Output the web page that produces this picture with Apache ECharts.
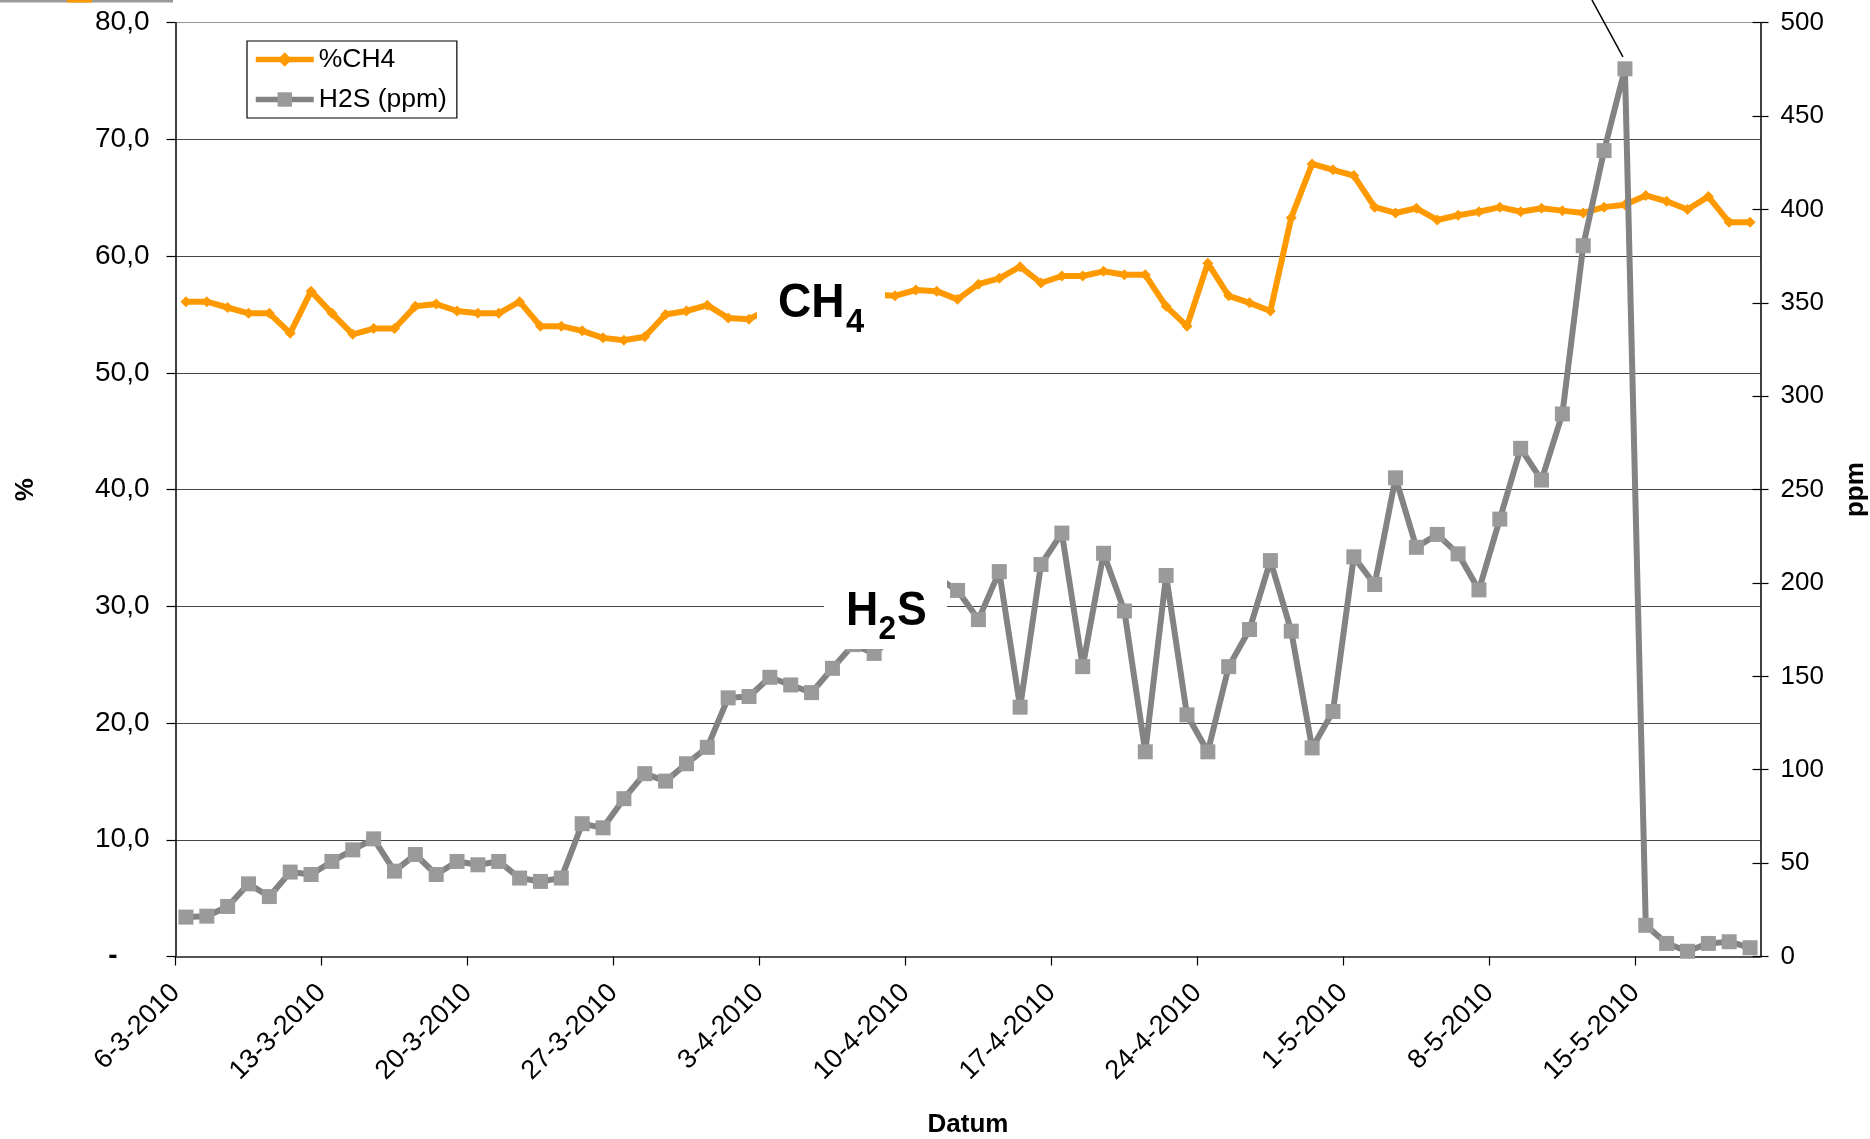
<!DOCTYPE html>
<html><head><meta charset="utf-8">
<script src="https://cdn.jsdelivr.net/npm/echarts@6/dist/echarts.min.js"></script>
<style>html,body{margin:0;padding:0;background:#fff}#c{width:1870px;height:1139px}</style>
</head><body><div id="c"></div>
<script>
// Daily dates (categories), 6-3-2010 .. 20-5-2010
const dates = [
 '6-3-2010','7-3-2010','8-3-2010','9-3-2010','10-3-2010','11-3-2010','12-3-2010','13-3-2010','14-3-2010','15-3-2010',
 '16-3-2010','17-3-2010','18-3-2010','19-3-2010','20-3-2010','21-3-2010','22-3-2010','23-3-2010','24-3-2010','25-3-2010',
 '26-3-2010','27-3-2010','28-3-2010','29-3-2010','30-3-2010','31-3-2010','1-4-2010','2-4-2010','3-4-2010','4-4-2010',
 '5-4-2010','6-4-2010','7-4-2010','8-4-2010','9-4-2010','10-4-2010','11-4-2010','12-4-2010','13-4-2010','14-4-2010',
 '15-4-2010','16-4-2010','17-4-2010','18-4-2010','19-4-2010','20-4-2010','21-4-2010','22-4-2010','23-4-2010','24-4-2010',
 '25-4-2010','26-4-2010','27-4-2010','28-4-2010','29-4-2010','30-4-2010','1-5-2010','2-5-2010','3-5-2010','4-5-2010',
 '5-5-2010','6-5-2010','7-5-2010','8-5-2010','9-5-2010','10-5-2010','11-5-2010','12-5-2010','13-5-2010','14-5-2010',
 '15-5-2010','16-5-2010','17-5-2010','18-5-2010','19-5-2010','20-5-2010'
];
// %CH4 (left axis)
const ch4 = [
 56.1,56.1,55.6,55.1,55.1,53.4,57.0,55.1,53.3,53.8,
 53.8,55.7,55.9,55.3,55.1,55.1,56.1,54.0,54.0,53.6,
 53.0,52.8,53.1,55.0,55.3,55.8,54.7,54.6,55.5,55.8,
 56.0,56.3,56.5,56.7,56.6,57.1,57.0,56.3,57.6,58.1,
 59.1,57.7,58.3,58.3,58.7,58.4,58.4,55.7,54.0,59.4,
 56.6,56.0,55.3,63.3,67.9,67.4,66.9,64.2,63.7,64.1,
 63.1,63.5,63.8,64.2,63.8,64.1,63.9,63.7,64.2,64.4,
 65.2,64.7,64.0,65.1,62.9,62.9
];
// H2S ppm (right axis)
const h2s = [
 21.1,21.6,26.8,38.9,32.1,45.2,43.9,50.9,57.1,63.0,
 45.7,54.6,43.9,50.9,49.1,50.9,42.0,40.2,42.0,71.1,
 68.9,84.5,97.9,93.9,103.2,112.0,138.5,139.2,149.5,145.4,
 141.3,154.3,167.0,162.3,172.0,186.0,203.0,196.0,180.4,206.1,
 133.5,209.9,226.7,155.2,215.9,185.0,109.6,204.0,129.4,109.6,
 155.2,175.1,212.0,174.2,111.7,131.2,214.0,199.2,256.3,219.1,
 226.0,215.6,196.3,234.2,272.1,255.1,290.5,380.6,431.5,475.3,
 16.7,7.0,2.8,7.0,7.9,4.7
];
const seriesNames = ['%CH4', 'H2S (ppm)'];
const leftTicks = {min: 0, max: 80, step: 10};
const rightTicks = {min: 0, max: 500, step: 50};

const FONT = 'Liberation Sans, Arial, Helvetica, sans-serif';
const chart = echarts.init(document.getElementById('c'), null, {renderer: 'canvas'});

const G = {left: 175.5, right: 109.5, top: 22.7, bottom: 182.5};

const option = {
  animation: false,
  backgroundColor: '#fff',
  textStyle: {fontFamily: FONT},
  grid: {left: G.left, right: G.right, top: G.top, bottom: G.bottom, containLabel: false, outerBoundsMode: 'none'},
  legend: {
    data: seriesNames,
    orient: 'vertical',
    left: 247, top: 41,
    itemWidth: 58, itemHeight: 18, itemGap: 13,
    padding: [5, 10, 5, 6],
    borderColor: '#000', borderWidth: 1.2, backgroundColor: '#fff',
    lineStyle: {width: 5.5},
    textStyle: {fontSize: 26.5, color: '#000', fontFamily: FONT}
  },
  xAxis: {
    type: 'value', min: 0, max: dates.length, interval: 7,
    name: 'Datum', nameLocation: 'middle', nameGap: 155,
    nameTextStyle: {fontSize: 26, fontWeight: 'bold', color: '#000', fontFamily: FONT},
    axisLine: {show: true, onZero: false, lineStyle: {color: '#555', width: 2}},
    axisTick: {show: true, length: 9, lineStyle: {color: '#000', width: 1.2}},
    axisLabel: {
      rotate: 45, margin: 32, fontSize: 27, color: '#000', fontFamily: FONT,
      showMaxLabel: false,
      formatter: v => (v % 7 === 0 && v < dates.length) ? dates[v] : ''
    },
    splitLine: {show: false}
  },
  yAxis: [
    {
      type: 'value', position: 'left', min: leftTicks.min, max: leftTicks.max, interval: leftTicks.step,
      name: '%', nameLocation: 'middle', nameGap: 137, nameRotate: 90,
      nameTextStyle: {fontSize: 26, fontWeight: 'bold', color: '#000', fontFamily: FONT},
      axisLine: {show: true, lineStyle: {color: '#000', width: 1.5}},
      axisTick: {show: true, length: 9, lineStyle: {color: '#000', width: 1.2}},
      axisLabel: {
        margin: 26, fontSize: 28, color: '#000', fontFamily: FONT,
        formatter: v => v === 0 ? '{d|-}' : v.toFixed(1).replace('.', ','),
        rich: {d: {fontSize: 28, color: '#000', padding: [0, 32, 0, 0], fontWeight: 'bold'}}
      },
      splitLine: {show: true, lineStyle: {color: ['#444','#444','#444','#444','#444','#444','#444','#444','#999'], width: 1.2}}
    },
    {
      type: 'value', position: 'right', min: rightTicks.min, max: rightTicks.max, interval: rightTicks.step,
      name: 'ppm', nameLocation: 'middle', nameGap: 82, nameRotate: 90,
      nameTextStyle: {fontSize: 26, fontWeight: 'bold', color: '#000', fontFamily: FONT},
      axisLine: {show: true, lineStyle: {color: '#000', width: 1.5}},
      axisTick: {show: true, length: 8, lineStyle: {color: '#000', width: 1.2}},
      axisLabel: {margin: 20, fontSize: 26, color: '#000', fontFamily: FONT},
      splitLine: {show: false}
    },
    {
      type: 'value', position: 'right', min: rightTicks.min, max: rightTicks.max, interval: rightTicks.step,
      axisLine: {show: false},
      axisTick: {show: true, inside: true, length: 8, lineStyle: {color: '#000', width: 1.2}},
      axisLabel: {show: false},
      splitLine: {show: false}
    }
  ],
  series: [
    {
      name: seriesNames[0], type: 'line', yAxisIndex: 0, z: 2,
      data: ch4.map((v, i) => [i + 0.5, v]),
      symbol: 'diamond', symbolSize: 11,
      lineStyle: {color: '#FF9900', width: 6},
      itemStyle: {color: '#FF9900'}
    },
    {
      name: seriesNames[1], type: 'line', yAxisIndex: 1, z: 3,
      data: h2s.map((v, i) => [i + 0.5, v]),
      symbol: 'rect', symbolSize: 15,
      lineStyle: {color: '#838383', width: 6},
      itemStyle: {color: '#9a9a9a'}
    }
  ]
};
chart.setOption(option);

// Annotation graphics (white label boxes, subscripted labels, callout line)
const peakIdx = h2s.indexOf(Math.max(...h2s));
const peak = chart.convertToPixel({seriesIndex: 1}, [peakIdx + 0.5, h2s[peakIdx]]);
const bold = s => 'bold ' + s + 'px ' + FONT;
const lbl = (txt, x, y, size, sx) => ({type: 'text', z: 101, x: x, y: y, scaleX: sx,
  style: {text: txt, font: bold(size), fill: '#000', textVerticalAlign: 'middle'}});
chart.setOption({
  graphic: [
    {type: 'rect', z: 100, shape: {x: 0, y: 0, width: 173, height: 2.5}, style: {fill: '#9a9a9a'}},
    {type: 'rect', z: 101, shape: {x: 67, y: 0, width: 25, height: 2.5}, style: {fill: '#FF9900'}},
    {type: 'line', z: 100, shape: {x1: peak[0] - 33, y1: 0, x2: peak[0] - 2, y2: peak[1] - 12}, style: {stroke: '#000', lineWidth: 1.5}},
    // CH4 label
    {type: 'rect', z: 100, shape: {x: 757, y: 272, width: 128, height: 74}, style: {fill: '#fff'}},
    lbl('CH', 778, 304, 48, 0.96),
    lbl('4', 846, 323, 34, 0.96),
    // H2S label
    {type: 'rect', z: 100, shape: {x: 824, y: 566, width: 123, height: 83}, style: {fill: '#fff'}},
    lbl('H', 846, 612, 48, 0.93),
    lbl('2', 878.5, 630, 34, 0.93),
    lbl('S', 897, 612, 48, 0.93)
  ]
});
</script>
</body></html>
